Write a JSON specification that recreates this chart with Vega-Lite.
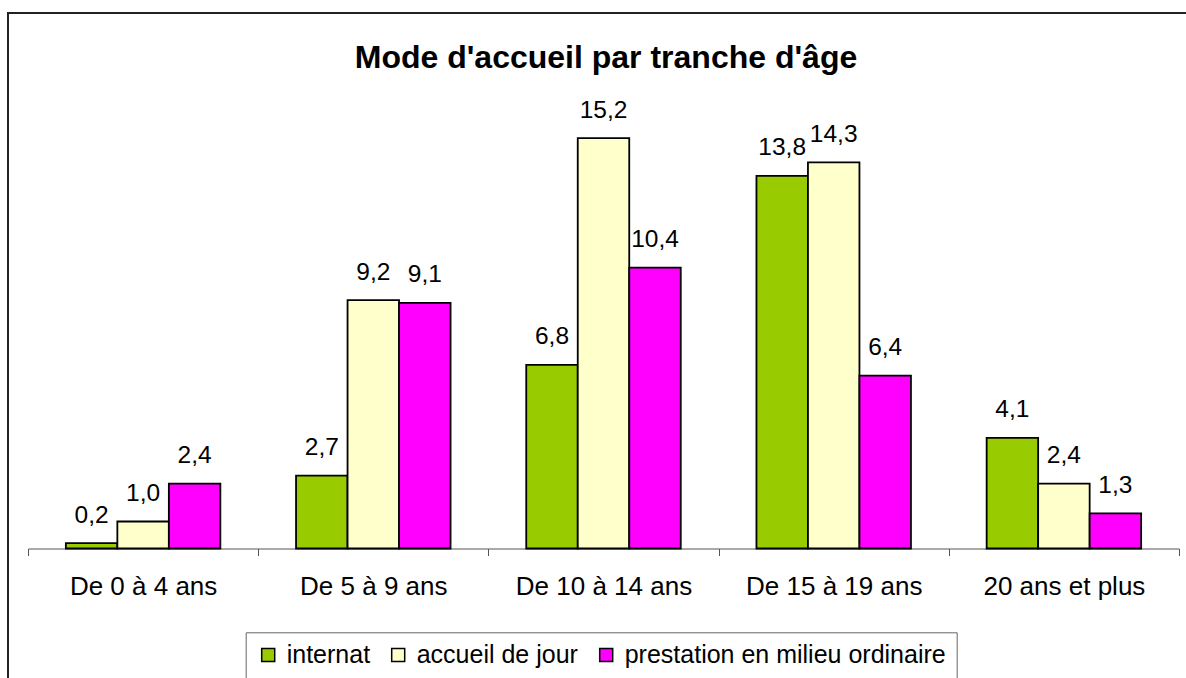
{
  "$schema": "https://vega.github.io/schema/vega-lite/v6.json",
  "width": 1178,
  "height": 665,
  "autosize": {"type": "none"},
  "padding": {"left": 8, "top": 13, "right": 0, "bottom": 0},
  "background": "white",
  "title": {
    "text": "Mode d'accueil par tranche d'âge",
    "fontSize": 32,
    "fontWeight": "bold",
    "font": "Liberation Sans",
    "color": "black",
    "anchor": "middle",
    "frame": "group",
    "baseline": "alphabetic",
    "offset": 0,
    "dy": 87,
    "dx": 9
  },
  "config": {
    "locale": {"number": {"decimal": ",", "thousands": " ", "grouping": [3], "currency": ["", " €"]}},
    "view": {"stroke": "#222222", "strokeWidth": 2, "strokeDash": [1178, 1843, 665]},
    "font": "Liberation Sans"
  },
  "data": {
    "values": [
      {"tranche": "De 0 à 4 ans", "mode": "internat", "valeur": 0.2},
      {"tranche": "De 0 à 4 ans", "mode": "accueil de jour", "valeur": 1.0},
      {"tranche": "De 0 à 4 ans", "mode": "prestation en milieu ordinaire", "valeur": 2.4},
      {"tranche": "De 5 à 9 ans", "mode": "internat", "valeur": 2.7},
      {"tranche": "De 5 à 9 ans", "mode": "accueil de jour", "valeur": 9.2},
      {"tranche": "De 5 à 9 ans", "mode": "prestation en milieu ordinaire", "valeur": 9.1},
      {"tranche": "De 10 à 14 ans", "mode": "internat", "valeur": 6.8},
      {"tranche": "De 10 à 14 ans", "mode": "accueil de jour", "valeur": 15.2},
      {"tranche": "De 10 à 14 ans", "mode": "prestation en milieu ordinaire", "valeur": 10.4},
      {"tranche": "De 15 à 19 ans", "mode": "internat", "valeur": 13.8},
      {"tranche": "De 15 à 19 ans", "mode": "accueil de jour", "valeur": 14.3},
      {"tranche": "De 15 à 19 ans", "mode": "prestation en milieu ordinaire", "valeur": 6.4},
      {"tranche": "20 ans et plus", "mode": "internat", "valeur": 4.1},
      {"tranche": "20 ans et plus", "mode": "accueil de jour", "valeur": 2.4},
      {"tranche": "20 ans et plus", "mode": "prestation en milieu ordinaire", "valeur": 1.3}
    ]
  },
  "encoding": {
    "x": {
      "field": "tranche",
      "type": "nominal",
      "sort": null,
      "scale": {"range": [20, 1171], "paddingInner": 0, "paddingOuter": 0},
      "axis": {
        "title": null,
        "labelAngle": 0,
        "labelFontSize": 26,
        "labelFont": "Liberation Sans",
        "labelColor": "black",
        "labelLimit": 400,
        "labelPadding": 18,
        "tickBand": "extent",
        "tickSize": 7,
        "tickColor": "#555555",
        "domainColor": "#555555",
        "offset": -129.5
      }
    },
    "xOffset": {
      "field": "mode",
      "type": "nominal",
      "sort": ["internat", "accueil de jour", "prestation en milieu ordinaire"],
      "scale": {"paddingInner": 0, "paddingOuter": 0.735}
    },
    "y": {
      "field": "valeur",
      "type": "quantitative",
      "scale": {"domain": [0, 16], "range": [535.5, 103.5], "nice": false, "zero": true},
      "axis": null
    }
  },
  "layer": [
    {
      "mark": {"type": "bar", "stroke": "black", "strokeWidth": 1.8},
      "encoding": {
        "color": {
          "field": "mode",
          "type": "nominal",
          "scale": {
            "domain": ["internat", "accueil de jour", "prestation en milieu ordinaire"],
            "range": ["#99CC00", "#FFFFCC", "#FF00FF"]
          },
          "legend": {
            "title": null,
            "orient": "none",
            "legendX": 237.7,
            "legendY": 619.3,
            "direction": "horizontal",
            "symbolType": "square",
            "symbolSize": 169,
            "symbolStrokeColor": "black",
            "symbolStrokeWidth": 1.5,
            "symbolOpacity": 1,
            "labelFontSize": 25,
            "labelFont": "Liberation Sans",
            "labelColor": "black",
            "labelLimit": 400,
            "labelOffset": 6,
            "columnPadding": 15,
            "padding": 10,
            "strokeColor": "#666666"
          }
        }
      }
    },
    {
      "mark": {"type": "text", "baseline": "alphabetic", "dy": -20.5, "fontSize": 24.5, "color": "black", "font": "Liberation Sans"},
      "encoding": {
        "text": {"field": "valeur", "type": "quantitative", "format": ".1f"}
      }
    }
  ]
}
